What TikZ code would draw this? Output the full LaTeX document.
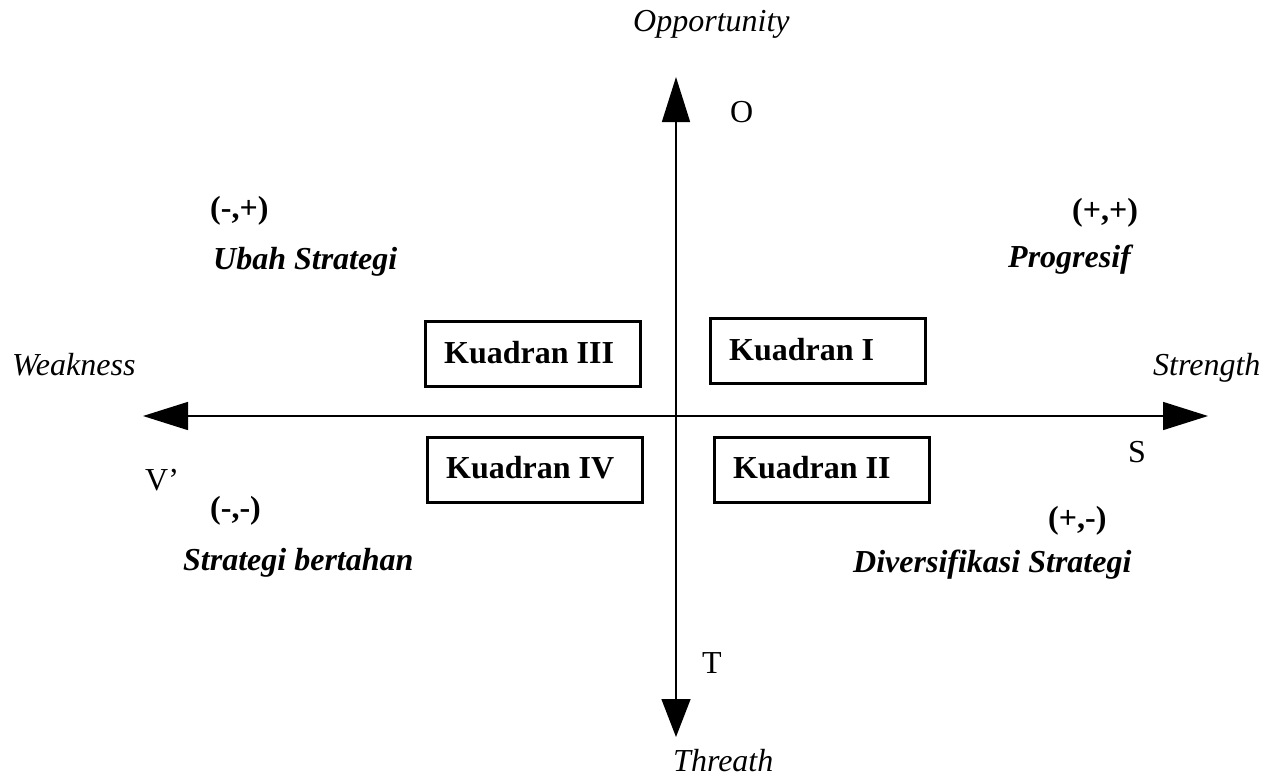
\documentclass[tikz,border=0pt]{standalone}
\usepackage{fontspec}
\setmainfont{Liberation Serif}
\usetikzlibrary{arrows.meta}
\tikzset{
  txt/.style={inner sep=0pt, anchor=base west, font=\fontsize{32}{38}\selectfont},
  itxt/.style={txt, font=\fontsize{32}{38}\selectfont\itshape},
  btxt/.style={txt, font=\fontsize{32}{38}\selectfont\bfseries},
  bitxt/.style={txt, font=\fontsize{32}{38}\selectfont\bfseries\itshape},
  qbox/.style={draw, line width=3pt, inner sep=0pt, minimum width=215pt, minimum height=65pt},
  axis/.style={line width=1.5pt},
}
\begin{document}
\begin{tikzpicture}[x=1pt,y=-1pt]
\useasboundingbox (0,0) rectangle (1273,780);
% axes
\coordinate (top) at (676,77);
\coordinate (bot) at (676,737);
\coordinate (left) at (143,416);
\coordinate (right) at (1208,416);
\draw[axis, {Triangle[length=38pt,width=29pt]}-{Triangle[length=45pt,width=28pt]}] (bot) -- (top);
\draw[axis, {Triangle[length=45pt,width=28pt]}-{Triangle[length=45pt,width=28pt]}] (left) -- (right);
% boxes
\node[qbox] (k3) at (532.5,354) {};
\node[qbox] (k1) at (817.5,350.5) {};
\node[qbox] (k4) at (534.5,469.5) {};
\node[qbox] (k2) at (822,470) {};
\node[btxt] (t3) at (444,363) {Kuadran III};
\node[btxt] (t1) at (729,360) {Kuadran I};
\node[btxt] (t4) at (446,478) {Kuadran IV};
\node[btxt] (t2) at (733,478) {Kuadran II};
% axis labels
\node[itxt] (opp) at (633,31) {Opportunity};
\node[txt] (o) at (730,122) {O};
\node[itxt] (weak) at (12,375) {Weakness};
\node[itxt] (str) at (1153,375) {Strength};
\node[txt] (s) at (1128,462) {S};
\node[txt] (w) at (145,490) {V’};
\node[txt] (t) at (702,673) {T};
\node[itxt] (thr) at (673,771) {Threath};
% quadrant labels
\node[btxt] (mp) at (210,218) {(-,+)};
\node[bitxt] (ubah) at (213,269) {Ubah Strategi};
\node[btxt] (pp) at (1072,220) {(+,+)};
\node[bitxt] (prog) at (1008,267) {Progresif};
\node[btxt] (mm) at (210,518) {(-,-)};
\node[bitxt] (bert) at (183,570) {Strategi bertahan};
\node[btxt] (pm) at (1048,528) {(+,-)};
\node[bitxt] (div) at (853,572) {Diversifikasi Strategi};
\end{tikzpicture}
\end{document}
